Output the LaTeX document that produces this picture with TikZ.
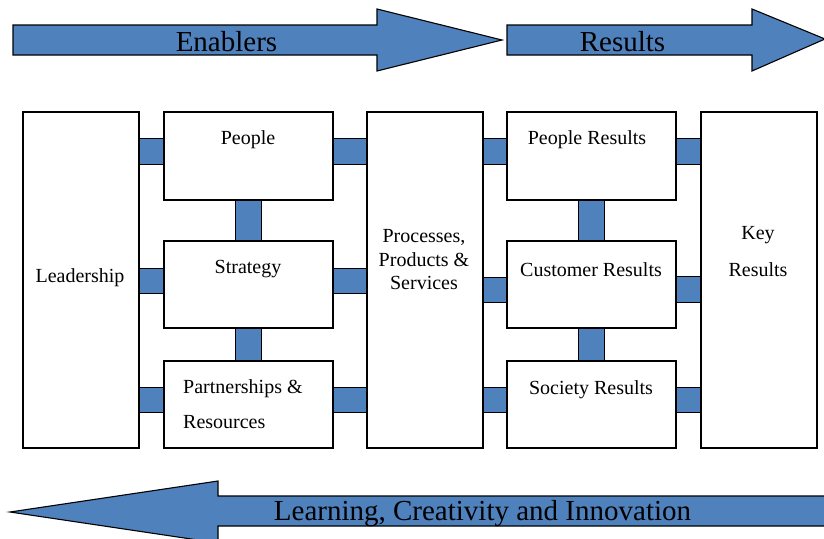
\documentclass[tikz,border=0pt]{standalone}
\usepackage{fontspec}
\setmainfont{Liberation Serif}
\definecolor{efqmblue}{RGB}{79,129,189}
\begin{document}
\begin{tikzpicture}[x=1pt,y=-1pt,
  box/.style={draw=black, line width=1.3pt, fill=white, inner sep=0pt, anchor=north west},
  conn/.style={fill=efqmblue, draw=black, line width=0.6pt},
  bigarrow/.style={fill=efqmblue, draw=black, line width=1.1pt, line join=miter},
  boxtext/.style={font=\fontsize{20}{23}\selectfont, inner sep=0pt},
  arrowtext/.style={font=\fontsize{29}{33}\selectfont, inner sep=0pt}]
\useasboundingbox (0,0) rectangle (824,538);
\clip (0,0) rectangle (824,538);

% big arrows
\draw[bigarrow] (13,25) -- (377,25) -- (377,9) -- (502,40) -- (377,71) -- (377,55) -- (13,55) -- cycle;
\draw[bigarrow] (507,25) -- (752,25) -- (752,9) -- (825,39) -- (752,71) -- (752,55) -- (507,55) -- cycle;
\draw[bigarrow] (830,496) -- (218,496) -- (218,481) -- (10,512) -- (218,543) -- (218,526) -- (830,526) -- cycle;
\node[arrowtext] (tenab) at (226.5,42) {Enablers};
\node[arrowtext] (tres) at (622.5,42) {Results};
\node[arrowtext] (tlearn) at (482.5,514) {Learning, Creativity and Innovation};

% box positions
\path (23,112) coordinate (pLead) (164,112) coordinate (pPeople) (164,241) coordinate (pStrat)
      (164,361) coordinate (pPart) (367,112) coordinate (pProc) (507,112) coordinate (pPR)
      (507,241) coordinate (pCR) (507,361) coordinate (pSR) (701,112) coordinate (pKey);

\node[box, minimum width=115pt, minimum height=335pt] (lead) at (pLead) {};
\node[box, minimum width=168pt, minimum height=87pt] (people) at (pPeople) {};
\node[box, minimum width=168pt, minimum height=86pt] (strat) at (pStrat) {};
\node[box, minimum width=168pt, minimum height=86pt] (part) at (pPart) {};
\node[box, minimum width=115pt, minimum height=335pt] (proc) at (pProc) {};
\node[box, minimum width=168pt, minimum height=87pt] (pres) at (pPR) {};
\node[box, minimum width=168pt, minimum height=86pt] (cres) at (pCR) {};
\node[box, minimum width=168pt, minimum height=86pt] (sres) at (pSR) {};
\node[box, minimum width=115pt, minimum height=335pt] (key) at (pKey) {};

% connectors
\draw[conn] (lead.east |- 0,138) rectangle (people.west |- 0,164);
\draw[conn] (lead.east |- 0,268) rectangle (strat.west |- 0,293);
\draw[conn] (lead.east |- 0,387) rectangle (part.west |- 0,412);
\draw[conn] (people.east |- 0,138) rectangle (proc.west |- 0,164);
\draw[conn] (strat.east |- 0,268) rectangle (proc.west |- 0,293);
\draw[conn] (part.east |- 0,387) rectangle (proc.west |- 0,412);
\draw[conn] (proc.east |- 0,138) rectangle (pres.west |- 0,164);
\draw[conn] (proc.east |- 0,277) rectangle (cres.west |- 0,302);
\draw[conn] (proc.east |- 0,387) rectangle (sres.west |- 0,412);
\draw[conn] (pres.east |- 0,138) rectangle (key.west |- 0,164);
\draw[conn] (cres.east |- 0,276) rectangle (key.west |- 0,302);
\draw[conn] (sres.east |- 0,387) rectangle (key.west |- 0,412);
\draw[conn] (people.south -| 235,0) rectangle (strat.north -| 261,0);
\draw[conn] (strat.south -| 235,0) rectangle (part.north -| 261,0);
\draw[conn] (pres.south -| 578,0) rectangle (cres.north -| 604,0);
\draw[conn] (cres.south -| 578,0) rectangle (sres.north -| 604,0);

% box outlines on top
\foreach \b in {lead,people,strat,part,proc,pres,cres,sres,key}
  \draw[line width=1.3pt] (\b.north west) rectangle (\b.south east);

% texts
\node[boxtext] (tlead) at (80,277.5) {Leadership};
\node[boxtext] (tpeople) at (248,140) {People};
\node[boxtext] (tstrat) at (248,269.5) {Strategy};
\node[boxtext, anchor=west] (tpart1) at (183,388.5) {Partnerships \&};
\node[boxtext, anchor=west] (tpart2) at (183,422.5) {Resources};
\node[boxtext] (tproc1) at (424,237.5) {Processes,};
\node[boxtext] (tproc2) at (424,259.5) {Products \&};
\node[boxtext] (tproc3) at (424,282.5) {Services};
\node[boxtext] (tpres) at (587,140) {People Results};
\node[boxtext] (tcres) at (591,269.5) {Customer Results};
\node[boxtext] (tsres) at (591,389.5) {Society Results};
\node[boxtext] (tkey1) at (758,235.5) {Key};
\node[boxtext] (tkey2) at (758,269.5) {Results};
\end{tikzpicture}
\end{document}
